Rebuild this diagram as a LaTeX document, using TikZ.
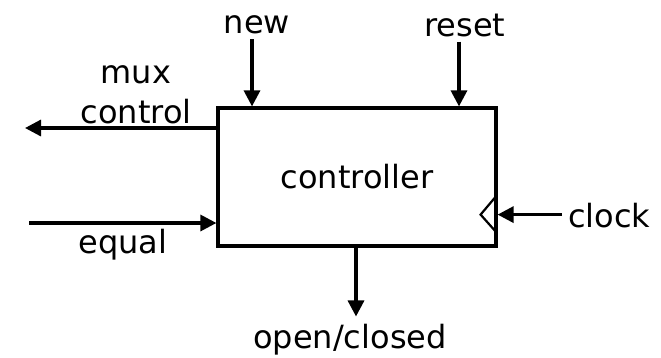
\documentclass[tikz,border=0pt]{standalone}
\usepackage{fontspec}
\setmainfont{DejaVu Sans}
\usetikzlibrary{arrows.meta, calc}

\tikzset{
  sig/.style={line width=3.2pt, -{Triangle[length=16pt,width=16pt]}},
  lbl/.style={inner sep=0pt, font=\fontsize{32}{40}\selectfont},
}

\begin{document}
\begin{tikzpicture}[x=1pt, y=-1pt]
    \useasboundingbox (0,0) rectangle (661,357);

    \node[draw, line width=3.2pt, minimum width=278pt, minimum height=138pt, lbl] (ctrl) at (357,177) {controller};

    \node[lbl] (new) at (257,25) {new};
    \node[lbl] (reset) at (465,25) {reset};
    \node[lbl, align=center, anchor=south] (mux) at (136,124) {mux\\control};
    \node[lbl, anchor=base] (equal) at (123,253) {equal};
    \node[lbl, anchor=base west] (clock) at (568,227) {clock};
    \node[lbl, anchor=base] (open) at (350,348) {open/closed};

    \coordinate (muxend) at (25,128);
    \coordinate (eqstart) at (29,223);
    \coordinate (clk) at ($(ctrl.south east)+(0,-33)$);

    \draw[sig] ([xshift=-5pt, yshift=-5pt]new.south) -- ([xshift=-5pt]new.south |- ctrl.north);
    \draw[sig] ([xshift=-6pt, yshift=-5pt]reset.south) -- ([xshift=-6pt]reset.south |- ctrl.north);
    \draw[sig] (ctrl.west |- muxend) -- (muxend);
    \draw[sig] (eqstart) -- (ctrl.west |- eqstart);
    \draw[sig] ([xshift=-6pt]clock.west |- clk) -- (clk);
    \draw[sig] ([xshift=-1pt]ctrl.south) -- ([xshift=-1pt, yshift=7pt]ctrl.south |- open.north);

    % clock input mark
    \draw[line width=2.2pt] ($(clk)+(-1,-19)$) -- ($(clk)+(-17,0)$) -- ($(clk)+(-1,18)$);
\end{tikzpicture}
\end{document}
